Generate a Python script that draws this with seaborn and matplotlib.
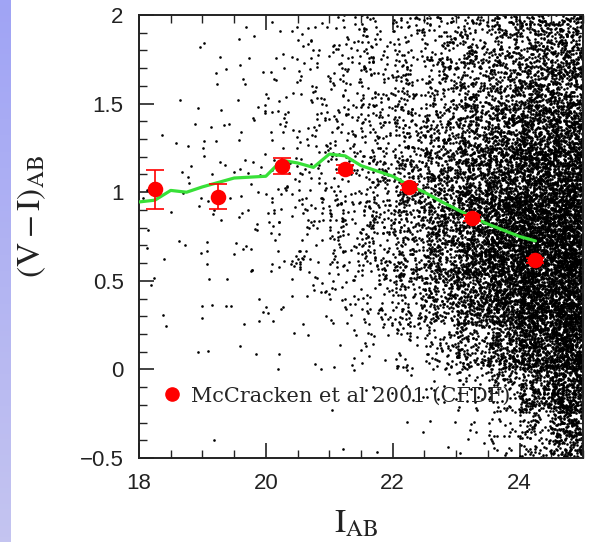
import numpy as np
import pandas as pd
import matplotlib
matplotlib.use("Agg")
import matplotlib.pyplot as plt
from matplotlib.lines import Line2D
from matplotlib.ticker import MultipleLocator, FixedLocator
import seaborn as sns

# ---------------- data ----------------
# McCracken et al 2001 (CFDF) points
mc_I = [18.25, 19.25, 20.25, 21.25, 22.25, 23.25, 24.25]
mc_VI = [1.016, 0.975, 1.148, 1.131, 1.030, 0.855, 0.615]
mc_err = [0.108, 0.070, 0.047, 0.020, 0.015, 0.015, 0.015]

# green median-colour line
line_I = [18.0, 18.25, 18.5, 18.75, 19.0, 19.25, 19.5, 19.75, 20.0, 20.25,
          20.5, 20.75, 21.0, 21.25, 21.5, 21.75, 22.0, 22.25, 22.5, 22.75,
          23.0, 23.25, 23.5, 23.75, 24.0, 24.25]
line_VI = [0.945, 0.955, 1.010, 1.000, 1.030, 1.055, 1.080, 1.085, 1.090, 1.180,
           1.165, 1.140, 1.215, 1.205, 1.150, 1.120, 1.090, 1.040, 1.000, 0.950,
           0.905, 0.860, 0.820, 0.785, 0.750, 0.725]

# background galaxy cloud: estimated number of dots per cell
cloud_I_edges = [18.0, 18.5, 19.0, 19.5, 20.0, 20.5, 21.0, 21.5, 22.0, 22.5,
                 23.0, 23.5, 24.0, 24.5, 25.0]
cloud_VI_edges = [2.0, 1.75, 1.5, 1.25, 1.0, 0.75, 0.5, 0.25, 0.0, -0.25, -0.5]
cloud_counts = [
    [0, 1, 2, 4, 8, 15, 25, 35, 45, 62, 85, 115, 160, 190],        # 1.75 .. 2.00
    [0, 1, 3, 5, 10, 18, 28, 40, 55, 78, 110, 150, 200, 240],      # 1.50 .. 1.75
    [1, 4, 7, 8, 14, 22, 32, 50, 72, 110, 165, 230, 300, 340],     # 1.25 .. 1.50
    [2, 4, 5, 8, 15, 22, 35, 60, 100, 160, 240, 330, 410, 440],    # 1.00 .. 1.25
    [2, 4, 6, 9, 16, 26, 45, 70, 120, 200, 310, 430, 540, 560],    # 0.75 .. 1.00
    [3, 3, 5, 8, 12, 20, 35, 60, 110, 190, 310, 440, 570, 600],    # 0.50 .. 0.75
    [2, 2, 3, 4, 6, 10, 18, 34, 70, 135, 240, 370, 520, 580],      # 0.25 .. 0.50
    [1, 1, 1, 2, 3, 3, 6, 12, 26, 55, 120, 240, 390, 520],         # 0.00 .. 0.25
    [0, 0, 0, 0, 0, 0, 2, 3, 5, 10, 25, 75, 210, 380],             # -0.25 .. 0.00
    [0, 0, 1, 0, 0, 0, 1, 1, 2, 3, 7, 25, 80, 230],                # -0.50 .. -0.25
]

x_major = [18, 20, 22, 24]
y_major = [-0.5, 0, 0.5, 1, 1.5, 2]
x_label = r'$\mathrm{I}_{\mathrm{AB}}$'
y_label = r'$(\mathrm{V-I})_{\mathrm{AB}}$'
legend_label = 'McCracken et al 2001 (CFDF)'


# ---------------- place cloud dots inside their cells (deterministic hash texture) ----------------
def frac_hash(i, a, b):
    v = np.sin(i * a) * b
    return v - np.floor(v)


cx, cy = [], []
k = 1
for r, row in enumerate(cloud_counts):
    y_hi, y_lo = cloud_VI_edges[r], cloud_VI_edges[r + 1]
    for c, n in enumerate(row):
        x_lo, x_hi = cloud_I_edges[c], cloud_I_edges[c + 1]
        for _ in range(n):
            cx.append(x_lo + (x_hi - x_lo) * frac_hash(k, 12.9898, 43758.5453))
            cy.append(y_lo + (y_hi - y_lo) * frac_hash(k, 78.233, 24634.6345))
            k += 1
cloud = pd.DataFrame({'I': cx, 'VI': cy})

# ---------------- figure ----------------
sns.set_style('ticks')
plt.rcParams['mathtext.fontset'] = 'stix'
plt.rcParams['font.family'] = ['Liberation Sans', 'DejaVu Sans']

fig = plt.figure(figsize=(5.94, 5.42), dpi=100)
fig.patch.set_facecolor('white')

# slide strip on the left
strip = fig.add_axes([0, 0, 11 / 594, 1])
top_c = np.array([160, 164, 245]) / 255
bot_c = np.array([196, 196, 240]) / 255
t = np.linspace(0, 1, 100)[:, None]
grad = (top_c[None, :] * (1 - t) + bot_c[None, :] * t)[:, None, :]
strip.imshow(grad, aspect='auto', extent=[0, 1, 0, 1])
strip.set_axis_off()

ax = fig.add_axes([139 / 594, 1 - 458 / 542, 444 / 594, 443 / 542])
ax.set_facecolor('white')

sns.scatterplot(data=cloud, x='I', y='VI', s=3.6, color='black', linewidth=0,
                ax=ax, legend=False, zorder=1)
sns.lineplot(x=line_I, y=line_VI, color='#38e038', lw=2.3, ax=ax, sort=False,
             estimator=None, zorder=3)
ax.errorbar(mc_I, mc_VI, yerr=mc_err, fmt='none', ecolor='red', elinewidth=1.2,
            capsize=6.5, capthick=1.2, zorder=4)
sns.scatterplot(x=mc_I, y=mc_VI, s=125, color='red', linewidth=0, ax=ax,
                legend=False, zorder=5)

ax.set_xlim(18, 25)
ax.set_ylim(-0.5, 2)
ax.xaxis.set_major_locator(FixedLocator(x_major))
ax.yaxis.set_major_locator(FixedLocator(y_major))
ax.xaxis.set_minor_locator(MultipleLocator(0.5))
ax.yaxis.set_minor_locator(MultipleLocator(0.1))
ax.set_xticklabels([str(v) for v in x_major])
ax.set_yticklabels(['\u22120.5', '0', '0.5', '1', '1.5', '2'])
ax.tick_params(which='both', direction='in', top=True, right=True,
               colors='#222222', labelsize=16, pad=11)
ax.tick_params(which='major', length=11, width=1.2)
ax.tick_params(which='minor', length=5.5, width=1.0)
for sp in ax.spines.values():
    sp.set_color('#222222')
    sp.set_linewidth(1.4)

ax.set_xlabel(x_label, fontsize=24, color='#222222')
ax.set_ylabel(y_label, fontsize=24, color='#222222')
ax.xaxis.set_label_coords(0.49, -0.115)
ax.yaxis.set_label_coords(-0.205, 0.545)

handle = Line2D([], [], marker='o', color='red', ls='none', markersize=9.5)
ax.legend([handle], [legend_label], loc='center left', bbox_to_anchor=(0.05, 0.14),
          frameon=False, prop={'family': 'DejaVu Serif', 'size': 15},
          handlelength=1.0, handletextpad=0.45, borderpad=0, borderaxespad=0)

fig.savefig('out.png', dpi=100, facecolor='white')
